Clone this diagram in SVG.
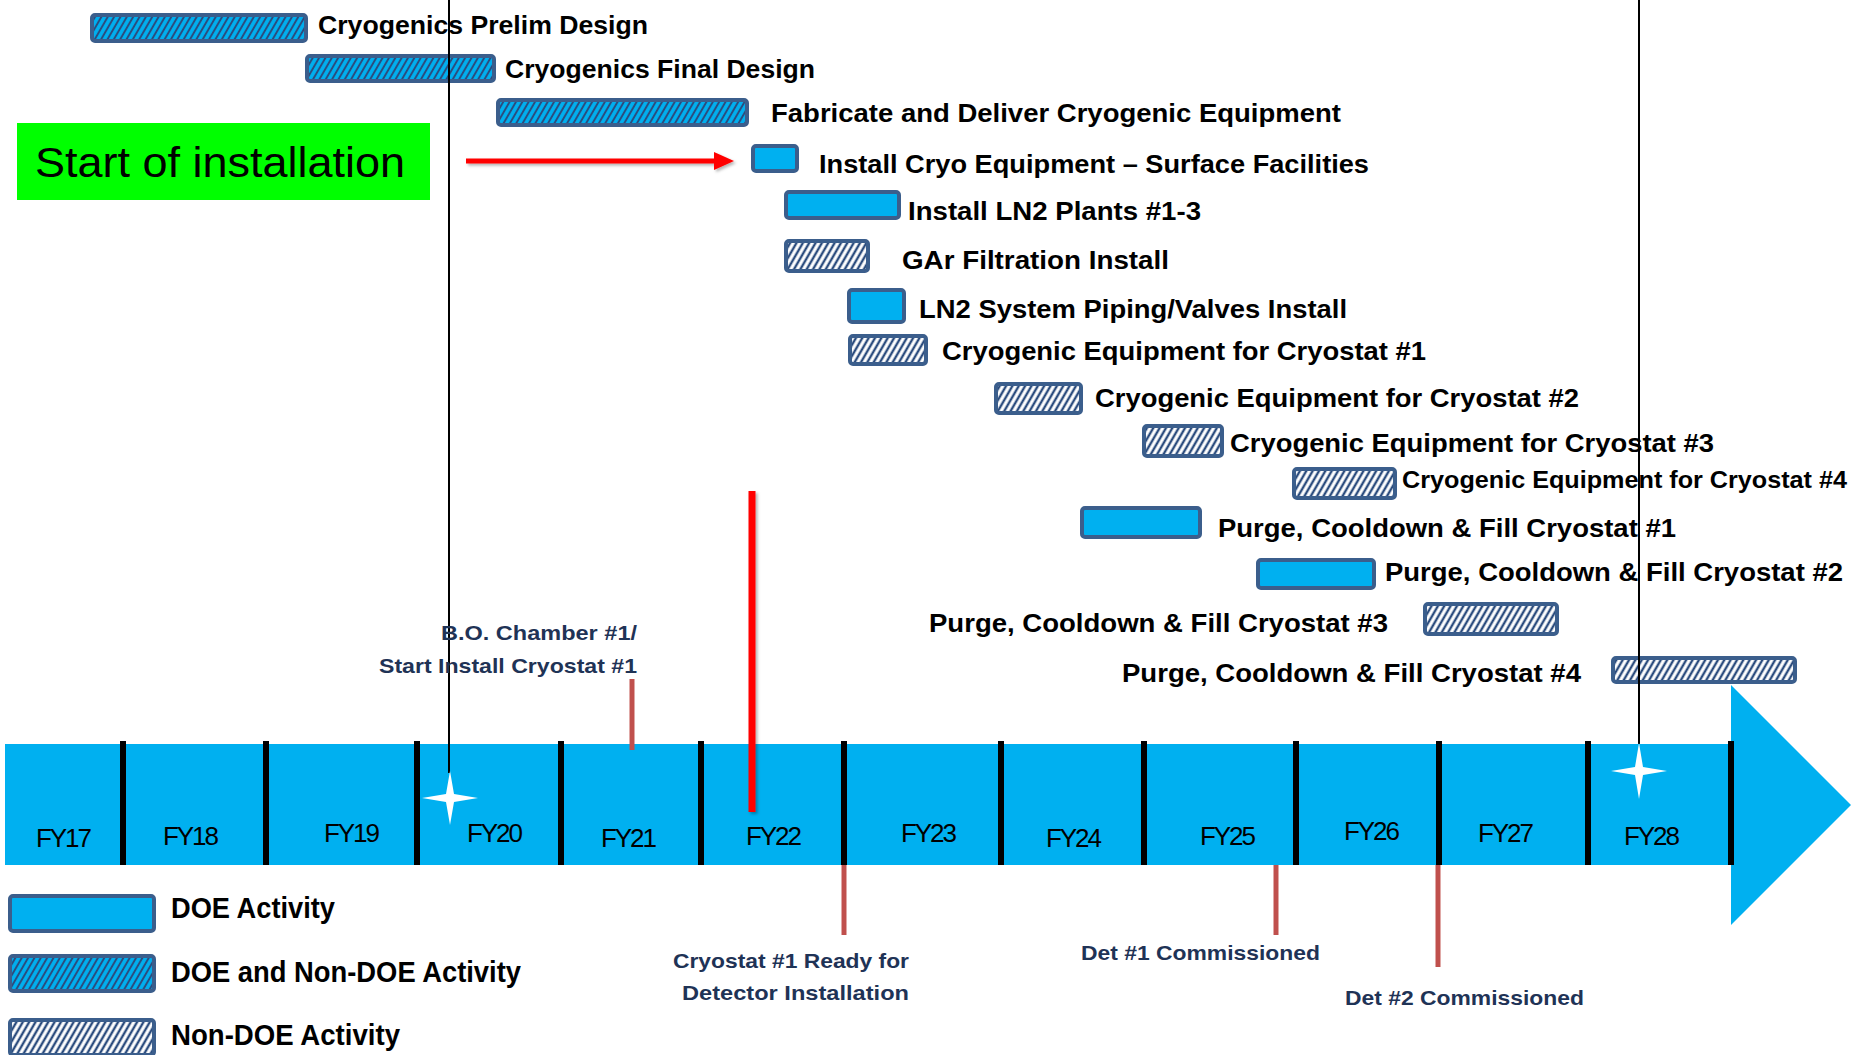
<svg xmlns="http://www.w3.org/2000/svg" width="1851" height="1055" viewBox="0 0 1851 1055">
<style>
.lbl{font-family:'Liberation Sans',Arial,sans-serif;font-weight:bold;font-size:26px;fill:#000}
.fy{font-family:'Liberation Sans',Arial,sans-serif;font-size:26px;fill:#000;text-anchor:middle}
.ms{font-family:'Liberation Sans',Arial,sans-serif;font-weight:bold;font-size:21px;fill:#1F3356}
.leg{font-family:'Liberation Sans',Arial,sans-serif;font-weight:bold;font-size:29px;fill:#000}
.bar{stroke:#3B5E8C;stroke-width:4}
.doe{fill:#00B0F0}
.mix{fill:url(#hatchBlue)}
.non{fill:url(#hatchWhite)}
.div{stroke:#000;stroke-width:6}
.mk{stroke:#C0504D;stroke-width:5}
.star{fill:#fff}
</style>
<defs>
<pattern id="hatchBlue" patternUnits="userSpaceOnUse" width="5.5" height="6" patternTransform="rotate(30)">
<rect width="5.5" height="6" fill="#00B0F0"/>
<line x1="2.75" y1="0" x2="2.75" y2="6" stroke="#2B4C7E" stroke-width="2"/>
</pattern>
<pattern id="hatchWhite" patternUnits="userSpaceOnUse" width="5.5" height="6" patternTransform="rotate(30)">
<rect width="5.5" height="6" fill="#fff"/>
<line x1="2.75" y1="0" x2="2.75" y2="6" stroke="#2B4C7E" stroke-width="2.4"/>
</pattern>
<filter id="shadow" filterUnits="userSpaceOnUse" x="0" y="0" width="1851" height="1055">
<feDropShadow dx="2" dy="2" stdDeviation="1.5" flood-color="#000" flood-opacity="0.3"/>
</filter>
</defs>

<g id="timeline">
<rect x="5" y="744" width="1727" height="121" fill="#00B0F0"/>
<polygon points="1731,685 1851,805 1731,925" fill="#00B0F0"/>
<line class="div" x1="123" y1="741" x2="123" y2="865"/>
<line class="div" x1="266" y1="741" x2="266" y2="865"/>
<line class="div" x1="417" y1="741" x2="417" y2="865"/>
<line class="div" x1="561" y1="741" x2="561" y2="865"/>
<line class="div" x1="701" y1="741" x2="701" y2="865"/>
<line class="div" x1="844" y1="741" x2="844" y2="865"/>
<line class="div" x1="1001" y1="741" x2="1001" y2="865"/>
<line class="div" x1="1144" y1="741" x2="1144" y2="865"/>
<line class="div" x1="1296" y1="741" x2="1296" y2="865"/>
<line class="div" x1="1439" y1="741" x2="1439" y2="865"/>
<line class="div" x1="1588" y1="741" x2="1588" y2="865"/>
<line class="div" x1="1731" y1="741" x2="1731" y2="865"/>
<text class="fy" x="64" y="847" textLength="56">FY17</text>
<text class="fy" x="191" y="845" textLength="56">FY18</text>
<text class="fy" x="352" y="842" textLength="56">FY19</text>
<text class="fy" x="495" y="842" textLength="56">FY20</text>
<text class="fy" x="629" y="847" textLength="56">FY21</text>
<text class="fy" x="774" y="845" textLength="56">FY22</text>
<text class="fy" x="929" y="842" textLength="56">FY23</text>
<text class="fy" x="1074" y="847" textLength="56">FY24</text>
<text class="fy" x="1228" y="845" textLength="56">FY25</text>
<text class="fy" x="1372" y="840" textLength="56">FY26</text>
<text class="fy" x="1506" y="842" textLength="56">FY27</text>
<text class="fy" x="1652" y="845" textLength="56">FY28</text>
</g>

<g id="start-box">
<rect x="17" y="123" width="413" height="77" fill="#00FF00"/>
<text x="35" y="177" font-family="'Liberation Sans',Arial,sans-serif" font-size="42" textLength="370" lengthAdjust="spacingAndGlyphs">Start of installation</text>
</g>

<g id="bar-prelim"><rect class="bar mix" x="92" y="15" width="214" height="26" rx="3"/><text class="lbl" x="318" y="34" textLength="330" lengthAdjust="spacingAndGlyphs">Cryogenics Prelim Design</text></g>
<g id="bar-final"><rect class="bar mix" x="307" y="56" width="187" height="25" rx="3"/><text class="lbl" x="505" y="78" textLength="310" lengthAdjust="spacingAndGlyphs">Cryogenics Final Design</text></g>
<g id="bar-fabricate"><rect class="bar mix" x="498" y="100" width="249" height="25" rx="3"/><text class="lbl" x="771" y="122" textLength="570" lengthAdjust="spacingAndGlyphs">Fabricate and Deliver Cryogenic Equipment</text></g>
<g id="bar-surface"><rect class="bar doe" x="753" y="146" width="44" height="25" rx="3"/><text class="lbl" x="819" y="173" textLength="550" lengthAdjust="spacingAndGlyphs">Install Cryo Equipment – Surface Facilities</text></g>
<g id="bar-ln2plants"><rect class="bar doe" x="786" y="192" width="113" height="26" rx="3"/><text class="lbl" x="908" y="220" textLength="293" lengthAdjust="spacingAndGlyphs">Install LN2 Plants #1-3</text></g>
<g id="bar-gar"><rect class="bar non" x="786" y="241" width="82" height="30" rx="3"/><text class="lbl" x="902" y="269" textLength="267" lengthAdjust="spacingAndGlyphs">GAr Filtration Install</text></g>
<g id="bar-piping"><rect class="bar doe" x="849" y="290" width="55" height="32" rx="3"/><text class="lbl" x="919" y="318" textLength="428" lengthAdjust="spacingAndGlyphs">LN2 System Piping/Valves Install</text></g>
<g id="bar-cryo1"><rect class="bar non" x="850" y="336" width="76" height="28" rx="3"/><text class="lbl" x="942" y="360" textLength="484" lengthAdjust="spacingAndGlyphs">Cryogenic Equipment for Cryostat #1</text></g>
<g id="bar-cryo2"><rect class="bar non" x="996" y="384" width="85" height="29" rx="3"/><text class="lbl" x="1095" y="407" textLength="484" lengthAdjust="spacingAndGlyphs">Cryogenic Equipment for Cryostat #2</text></g>
<g id="bar-cryo3"><rect class="bar non" x="1144" y="426" width="78" height="30" rx="3"/><text class="lbl" x="1230" y="452" textLength="484" lengthAdjust="spacingAndGlyphs">Cryogenic Equipment for Cryostat #3</text></g>
<g id="bar-cryo4"><rect class="bar non" x="1294" y="469" width="101" height="29" rx="3"/><text class="lbl" x="1402" y="488" font-size="24" style="font-size:24px" textLength="445" lengthAdjust="spacingAndGlyphs">Cryogenic Equipment for Cryostat #4</text></g>
<g id="bar-purge1"><rect class="bar doe" x="1082" y="508" width="118" height="29" rx="3"/><text class="lbl" x="1218" y="537" textLength="458" lengthAdjust="spacingAndGlyphs">Purge, Cooldown &amp; Fill Cryostat #1</text></g>
<g id="bar-purge2"><rect class="bar doe" x="1258" y="560" width="116" height="28" rx="3"/><text class="lbl" x="1385" y="581" textLength="458" lengthAdjust="spacingAndGlyphs">Purge, Cooldown &amp; Fill Cryostat #2</text></g>
<g id="bar-purge3"><rect class="bar non" x="1425" y="604" width="132" height="30" rx="3"/><text class="lbl" x="929" y="632" textLength="459" lengthAdjust="spacingAndGlyphs">Purge, Cooldown &amp; Fill Cryostat #3</text></g>
<g id="bar-purge4"><rect class="bar non" x="1613" y="658" width="182" height="24" rx="3"/><text class="lbl" x="1122" y="682" textLength="459" lengthAdjust="spacingAndGlyphs">Purge, Cooldown &amp; Fill Cryostat #4</text></g>

<g id="connectors">
<line x1="449" y1="0" x2="449" y2="773" stroke="#000" stroke-width="2"/>
<line x1="1639" y1="0" x2="1639" y2="744" stroke="#000" stroke-width="2"/>
<g filter="url(#shadow)">
<line x1="752" y1="491" x2="752" y2="812" stroke="#FF0000" stroke-width="7"/>
<line x1="466" y1="161" x2="718" y2="161" stroke="#FF0000" stroke-width="5"/>
<polygon points="714,152 734,161 714,170" fill="#FF0000"/>
</g>
</g>

<g id="star-fy20"><path class="star" d="M450,771 L454,794 L478,798 L454,802 L450,825 L446,802 L422,798 L446,794 Z"/></g>
<g id="star-fy28"><path class="star" d="M1639,743 L1643,767 L1667,771 L1643,775 L1639,799 L1635,775 L1611,771 L1635,767 Z"/></g>

<g id="ms-bo-chamber">
<line class="mk" x1="632" y1="679" x2="632" y2="750"/>
<text class="ms" x="441" y="640" textLength="196" lengthAdjust="spacingAndGlyphs">B.O. Chamber #1/</text>
<text class="ms" x="379" y="673" textLength="258" lengthAdjust="spacingAndGlyphs">Start Install Cryostat #1</text>
</g>
<g id="ms-cryostat-ready">
<line class="mk" x1="844" y1="865" x2="844" y2="935"/>
<text class="ms" x="673" y="968" textLength="236" lengthAdjust="spacingAndGlyphs">Cryostat #1 Ready for</text>
<text class="ms" x="682" y="1000" textLength="227" lengthAdjust="spacingAndGlyphs">Detector Installation</text>
</g>
<g id="ms-det1">
<line class="mk" x1="1276" y1="865" x2="1276" y2="935"/>
<text class="ms" x="1081" y="960" textLength="239" lengthAdjust="spacingAndGlyphs">Det #1 Commissioned</text>
</g>
<g id="ms-det2">
<line class="mk" x1="1438" y1="865" x2="1438" y2="967"/>
<text class="ms" x="1345" y="1005" textLength="239" lengthAdjust="spacingAndGlyphs">Det #2 Commissioned</text>
</g>

<g id="legend">
<rect class="bar doe" x="10" y="896" width="144" height="35" rx="3"/>
<text class="leg" x="171" y="918" textLength="164" lengthAdjust="spacingAndGlyphs">DOE Activity</text>
<rect class="bar mix" x="10" y="956" width="144" height="35" rx="3"/>
<text class="leg" x="171" y="982" textLength="350" lengthAdjust="spacingAndGlyphs">DOE and Non-DOE Activity</text>
<rect class="bar non" x="10" y="1020" width="144" height="35" rx="3"/>
<text class="leg" x="171" y="1045" textLength="229" lengthAdjust="spacingAndGlyphs">Non-DOE Activity</text>
</g>
</svg>
